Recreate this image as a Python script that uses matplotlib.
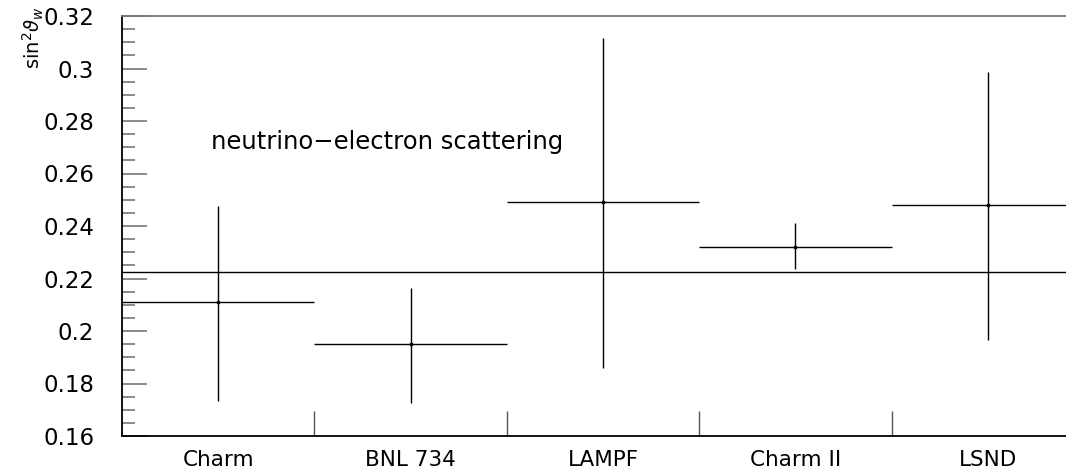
import numpy as np
import matplotlib
matplotlib.use("Agg")
import matplotlib.pyplot as plt
from matplotlib.ticker import MultipleLocator, FixedLocator, FixedFormatter

experiments = ["Charm", "BNL 734", "LAMPF", "Charm II", "LSND"]
sin2w = [0.211, 0.195, 0.249, 0.232, 0.248]
err_lo = [0.1735, 0.1725, 0.186, 0.2235, 0.1965]
err_hi = [0.2476, 0.2165, 0.3115, 0.241, 0.2985]
sm_value = 0.2225
ytick_vals = [0.16, 0.18, 0.2, 0.22, 0.24, 0.26, 0.28, 0.3, 0.32]
ytick_labels = ["0.16", "0.18", "0.2", "0.22", "0.24", "0.26", "0.28", "0.3", "0.32"]

W, H = 1066, 472
fig = plt.figure(figsize=(W / 100, H / 100), dpi=100)
# right edge of the frame falls outside the picture, as in the original
ax = fig.add_axes([122 / W, 1 - 436 / H, (1084 - 122) / W, (436 - 16) / H])

n = len(experiments)
centers = np.arange(n) + 0.5
vals = np.array(sin2w)
yerr = [vals - np.array(err_lo), np.array(err_hi) - vals]

ax.errorbar(centers, vals, xerr=0.5, yerr=yerr, fmt="s", ms=2, color="black",
            ecolor="black", elinewidth=1.0, capsize=0)
ax.axhline(sm_value, color="black", lw=1.0)

ax.set_xlim(0, n)
ax.set_ylim(0.16, 0.32)

ax.yaxis.set_major_locator(FixedLocator(ytick_vals))
ax.yaxis.set_major_formatter(FixedFormatter(ytick_labels))
ax.yaxis.set_minor_locator(MultipleLocator(0.005))
ax.tick_params(axis="y", which="major", direction="in", length=18, width=1.2,
               color="#777777", labelsize=16.5, pad=20)
ax.tick_params(axis="y", which="minor", direction="in", length=9, width=1.2,
               color="#777777")

ax.set_xticks(np.arange(1, n))
ax.set_xticklabels([])
ax.set_xticks(centers, minor=True)
ax.set_xticklabels(experiments, minor=True, fontsize=15.5)
ax.tick_params(axis="x", which="major", direction="in", length=18, width=1.0,
               color="#555555")
ax.tick_params(axis="x", which="minor", length=0, pad=10)

for s in ["left", "bottom"]:
    ax.spines[s].set_linewidth(1.3)
    ax.spines[s].set_color("black")
ax.spines["top"].set_linewidth(1.3)
ax.spines["top"].set_color("#777777")
ax.spines["right"].set_visible(False)

ax.text(0.46, 0.272, "neutrino\u2212electron scattering", fontsize=17.5,
        ha="left", va="center")

fig.text(33 / W, 1 - 38 / H, r"sin$^2\vartheta_w$", rotation=90, fontsize=14,
         ha="center", va="center")

fig.savefig("out.png", dpi=100)
